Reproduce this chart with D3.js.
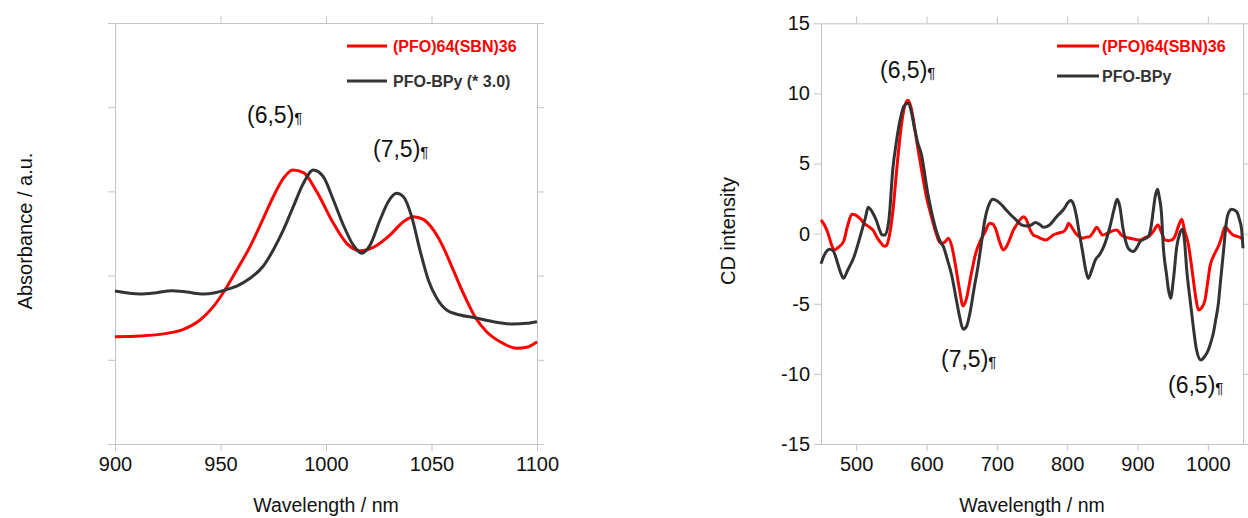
<!DOCTYPE html>
<html>
<head>
<meta charset="utf-8">
<script src="https://cdn.jsdelivr.net/npm/d3@7"></script>
<style>
  body { margin: 0; background: #fff; }
  svg { display: block; font-family: "Liberation Sans", Arial, sans-serif; }
  .axis path, .axis line { stroke: #c4c4c4; }
  .axis text { fill: #111; font-size: 20px; }
</style>
</head>
<body>
<svg id="chart" width="1248" height="518"></svg>
<script>
// ---- absorbance panel (left) ----
const absWlRed = [900, 911.8, 924.5, 932.4, 940.3, 946.6, 952.1, 957.7, 964, 970.3, 975, 979.8, 984.2, 989.3, 995.6,
  1003.5, 1009.8, 1016.1, 1022.4, 1030.3, 1036.7, 1041.4, 1046.1, 1050.9, 1055.6, 1060.3, 1065.1, 1070.6, 1076.1,
  1082.5, 1090.4, 1095.1, 1100];
const absRed = [1.275, 1.283, 1.314, 1.362, 1.473, 1.631, 1.829, 2.067, 2.344, 2.68, 2.937, 3.155, 3.254, 3.223, 2.997,
  2.621, 2.383, 2.296, 2.336, 2.482, 2.64, 2.7, 2.668, 2.542, 2.336, 2.067, 1.789, 1.512, 1.334,
  1.215, 1.136, 1.148, 1.215];
const absWlBpy = [900, 911.8, 919.7, 926.9, 934, 941.9, 947.4, 952.1, 957.7, 964, 970.3, 975, 979.8, 984.5, 989.3, 994,
  998.7, 1003.5, 1008.2, 1012.9, 1016.9, 1020.9, 1025.6, 1029.5, 1033.5, 1036.7, 1040.6, 1044.5, 1048.5, 1052.5,
  1057.2, 1063.5, 1070.6, 1079.3, 1088.8, 1095.1, 1100];
const absBpy = [1.817, 1.781, 1.797, 1.821, 1.805, 1.781, 1.797, 1.829, 1.876, 1.968, 2.114, 2.304, 2.542, 2.819, 3.096, 3.254,
  3.175, 2.898, 2.601, 2.363, 2.265, 2.363, 2.66, 2.878, 2.977, 2.937, 2.7, 2.304, 1.948, 1.73,
  1.591, 1.532, 1.5, 1.453, 1.425, 1.433, 1.453];
const absXTicks = [900, 950, 1000, 1050, 1100];
const absYTicks = [0, 1, 2, 3, 4, 5];

// ---- CD panel (right) ----
const cdWlRed = [450, 455, 460, 465, 469, 474, 482, 488, 494, 500, 506, 512, 518, 524, 530, 535, 540, 543, 547,
  552, 557.6, 563, 568, 573.6, 578, 583, 588, 593, 600, 606, 612, 617, 622, 626, 631, 636, 642, 647, 652, 657, 662,
  670, 676, 683, 690, 694, 698, 704, 709, 714, 718, 723, 728, 733, 738, 742, 747, 752, 757, 763, 770, 775, 780,
  788, 795, 799, 802, 806, 812, 817, 822, 827, 832, 837, 842, 846, 850, 856, 862, 870, 874, 877, 883, 889, 896,
  904, 910, 917, 923, 929, 934, 939, 944, 949, 954, 958, 963, 967, 972, 976, 979.4, 983, 986.5, 991, 996, 1000,
  1003, 1010, 1015, 1020, 1024.4, 1030, 1036, 1042, 1048, 1050];
const cdRed = [0.98, 0.6, 0.03, -0.8, -1.16, -1.0, -0.57, 0.6, 1.38, 1.3, 1.05, 0.7, 0.5, 0.25, -0.3, -0.65, -0.9, -0.85, -0.2,
  1.5, 4.54, 7.2, 8.9, 9.52, 9.0, 7.6, 6.0, 4.54, 2.6, 1.4, 0.3, -0.45, -0.7, -0.6, -0.33, -0.9, -2.5, -4.0, -5.16, -4.6, -3.3,
  -1.4, -0.57, 0.1, 0.74, 0.7, 0.38, -0.6, -1.16, -0.9, -0.45, 0.2, 0.62, 1.0, 1.21, 1.0, 0.3, -0.1, -0.21, -0.35, -0.45, -0.3, -0.1,
  0.05, 0.15, 0.4, 0.74, 0.5, 0.03, -0.2, -0.33, -0.25, -0.21, 0.1, 0.45, 0.2, -0.1, 0.0, 0.15, 0.26, 0.1, -0.1, -0.25, -0.33, -0.4,
  -0.45, -0.3, -0.15, 0.2, 0.62, 0.1, -0.45, -0.5, -0.45, -0.1, 0.5, 1.02, 0.2, -0.69, -2.0, -3.3, -4.6, -5.44, -5.3, -4.73, -3.4,
  -2.35, -1.4, -0.9, -0.2, 0.5, 0.2, -0.1, -0.2, -0.33, -0.45];
const cdWlBpy = [450, 455, 462, 467, 473, 478, 482, 488, 497, 507, 513, 517, 520, 525, 529, 533, 537, 541,
  547, 552, 557, 562, 568, 573.6, 578, 583, 588, 593, 596.6, 601, 607, 614, 619, 624, 630, 636, 642, 647, 652, 657, 662,
  668, 673, 678, 683, 689, 694.5, 700, 706, 713, 720, 728, 735, 742, 748, 755, 761, 767, 775, 785, 795, 801, 805, 809,
  813, 817, 822, 826, 830, 835, 840, 846, 852, 857, 862, 867, 871, 875, 879, 883, 887, 894, 899, 903.6, 909, 915.4, 919,
  922.5, 925, 928.7, 931, 934, 936.7, 941.5, 944, 947, 951, 955.8, 960, 964, 967, 970, 975, 979.3, 984, 990, 995, 1000.7,
  1004, 1007.8, 1011, 1015, 1018, 1022, 1026.8, 1030, 1034, 1041, 1045, 1048, 1050];
const cdBpy = [-2.15, -1.5, -1.11, -1.2, -2.0, -2.8, -3.18, -2.6, -1.64, 0.03, 1.1, 1.88, 1.75, 1.35, 0.9, 0.3, -0.1, -0.1,
  1.2, 4.54, 6.5, 8.0, 9.1, 9.29, 8.8, 7.5, 6.4, 5.6, 4.54, 3.1, 1.6, 0.2, -0.5, -0.93, -1.9, -3.0, -4.6, -5.9, -6.82, -6.6, -5.6,
  -3.8, -2.4, -0.7, 1.0, 2.1, 2.45, 2.35, 2.1, 1.7, 1.33, 0.95, 0.62, 0.55, 0.6, 0.79, 0.65, 0.45, 0.62, 1.21, 1.74, 2.2, 2.36, 2.1,
  1.3, 0.1, -1.3, -2.5, -3.19, -2.6, -1.88, -1.5, -0.93, -0.2, 0.74, 1.8, 2.45, 1.9, 0.5, -0.5, -1.05, -1.28, -1.0, -0.57, -0.4, -0.21, 0.4,
  1.69, 2.6, 3.16, 2.6, 1.5, -0.93, -3.0, -4.0, -4.6, -3.3, -0.93, 0.0, 0.31, -0.6, -2.59, -4.8, -6.63, -8.3, -9.01, -8.8, -8.3,
  -7.8, -7.1, -6.2, -4.97, -3.4, -1.4, 0.98, 1.55, 1.74, 1.57, 1.0, 0.3, -1.04];
const cdXTicks = [500, 600, 700, 800, 900, 1000];
const cdYTicks = [-15, -10, -5, 0, 5, 10, 15];

const absLegend = ["(PFO)64(SBN)36", "PFO-BPy (* 3.0)"];
const cdLegend = ["(PFO)64(SBN)36", "PFO-BPy"];
const RED = "#ff0000", DARK = "#333333";

const svg = d3.select("#chart");

function zip(xs, ys) { return xs.map((x, i) => [x, ys[i]]); }

function framePanel(x, y, xTicks, yTicks, showYLabels) {
  const [x0, x1] = x.range(), [y1, y0] = y.range();
  const g = svg.append("g");
  g.append("g").attr("class", "axis").attr("transform", `translate(0,${y1})`)
    .call(d3.axisBottom(x).tickValues(xTicks).tickSize(7).tickSizeOuter(0).tickPadding(6).tickFormat(d => String(d)));
  g.append("g").attr("class", "axis").attr("transform", `translate(0,${y0})`)
    .call(d3.axisTop(x).tickValues(xTicks.filter(v => v > x.domain()[0] && v < x.domain()[1])).tickSize(7).tickSizeOuter(0).tickFormat(""));
  g.append("g").attr("class", "axis").attr("transform", `translate(${x0},0)`)
    .call(d3.axisLeft(y).tickValues(yTicks).tickSize(7).tickSizeOuter(0).tickPadding(4)
      .tickFormat(showYLabels ? d => String(d) : ""));
  g.append("g").attr("class", "axis").attr("transform", `translate(${x1},0)`)
    .call(d3.axisRight(y).tickValues(yTicks).tickSize(7).tickSizeOuter(0).tickFormat(""));
  g.selectAll(".axis text").attr("fill", "#111");
  return g;
}

function drawLine(x, y, pts, color, curve) {
  svg.append("path").datum(pts)
    .attr("fill", "none").attr("stroke", color).attr("stroke-width", 3).attr("stroke-linejoin", "round")
    .attr("d", d3.line().x(d => x(d[0])).y(d => y(d[1])).curve(curve));
}

function legend(x0, x1, items) {
  items.forEach(it => {
    svg.append("line").attr("x1", x0).attr("x2", x1).attr("y1", it.y).attr("y2", it.y)
      .attr("stroke", it.color).attr("stroke-width", 3);
    svg.append("text").attr("x", it.tx).attr("y", it.y + 6).attr("fill", it.color)
      .attr("font-size", 16).attr("font-weight", "bold").text(it.label);
  });
}

function note(x, y, label) {
  const t = svg.append("text").attr("x", x).attr("y", y).attr("fill", "#111").attr("font-size", 23);
  t.append("tspan").attr("fill", "#111").text(label);
  t.append("tspan").attr("fill", "#111").attr("font-size", 15).text("\u00b6");
}

function axisTitles(cx, bottomY, leftX, text) {
  svg.append("text").attr("x", cx).attr("y", bottomY).attr("text-anchor", "middle")
    .attr("font-size", 19.5).attr("fill", "#111").text("Wavelength / nm");
  svg.append("text").attr("transform", `translate(${leftX},231) rotate(-90)`).attr("text-anchor", "middle")
    .attr("font-size", 20).attr("fill", "#111").text(text);
}

// left panel
const xA = d3.scaleLinear().domain([900, 1100]).range([115, 537]);
const yA = d3.scaleLinear().domain([0, 5]).range([444, 23]);
framePanel(xA, yA, absXTicks, absYTicks, false);
drawLine(xA, yA, zip(absWlRed, absRed), RED, d3.curveMonotoneX);
drawLine(xA, yA, zip(absWlBpy, absBpy), DARK, d3.curveMonotoneX);
legend(347, 387, [
  {y: 46, tx: 393, color: RED, label: absLegend[0]},
  {y: 81, tx: 393, color: DARK, label: absLegend[1]}
]);
note(247, 123, "(6,5)");
note(373, 157, "(7,5)");
axisTitles(326, 512, 32, "Absorbance / a.u.");

// right panel
const xC = d3.scaleLinear().domain([450, 1050]).range([821, 1243]);
const yC = d3.scaleLinear().domain([-15, 15]).range([444, 23.3]);
framePanel(xC, yC, cdXTicks, cdYTicks, true);
drawLine(xC, yC, zip(cdWlRed, cdRed), RED, d3.curveMonotoneX);
drawLine(xC, yC, zip(cdWlBpy, cdBpy), DARK, d3.curveMonotoneX);
legend(1057, 1099, [
  {y: 46, tx: 1102, color: RED, label: cdLegend[0]},
  {y: 76, tx: 1102, color: DARK, label: cdLegend[1]}
]);
note(880, 78, "(6,5)");
note(941, 367, "(7,5)");
note(1168, 393, "(6,5)");
axisTitles(1032, 512, 735, "CD intensity");
</script>
</body>
</html>
